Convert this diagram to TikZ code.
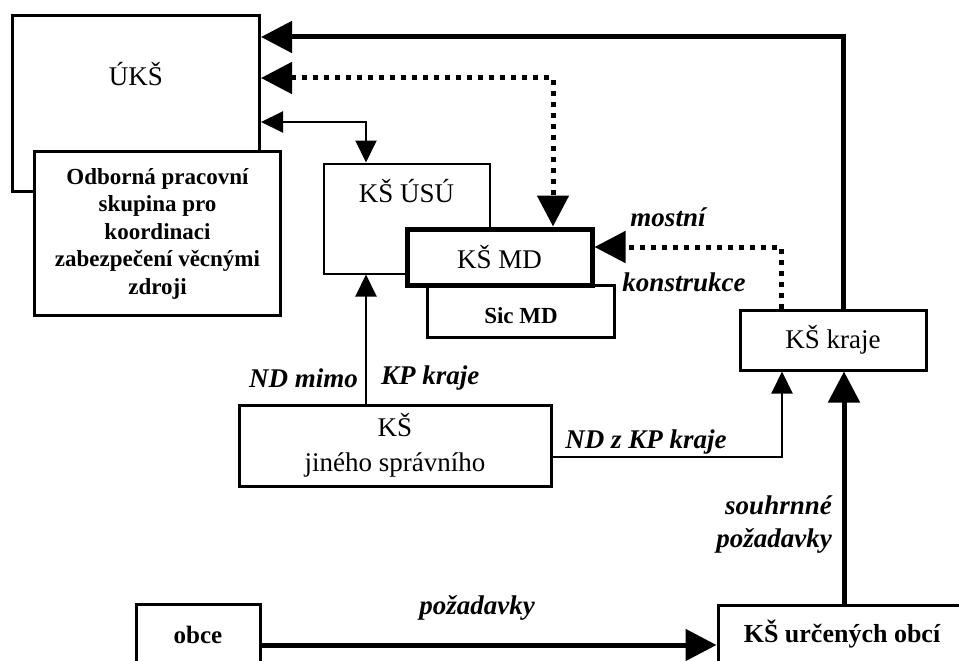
\documentclass[tikz,border=0pt]{standalone}
\usepackage{fontspec}
\setmainfont{Liberation Serif}
\usetikzlibrary{arrows.meta}

% font sizes
\newcommand{\regsize}{\fontsize{27}{35}\selectfont}
\newcommand{\boldsize}{\fontsize{23}{27.5}\selectfont\bfseries}
\newcommand{\labsize}{\fontsize{27}{33}\selectfont\bfseries\itshape}

\tikzset{
  box/.style={draw, fill=white, line width=3pt, inner sep=0pt, align=center, font=\regsize},
  lab/.style={inner sep=0pt, font=\labsize},
  thickline/.style={line width=5pt},
  thinline/.style={line width=2pt},
  dotline/.style={line width=5pt, dash pattern=on 5pt off 6pt},
  bigtri/.tip={Triangle[length=31pt,width=31pt]},
  smalltri/.tip={Triangle[length=22pt,width=21pt]}
}

\begin{document}
\begin{tikzpicture}[x=1pt, y=-1pt]
\useasboundingbox (0,0) rectangle (959,661);
\clip (0,0) rectangle (959,661);

% boxes
\node[box, minimum width=247, minimum height=175,
  label={[font=\regsize, yshift=-60pt, anchor=center]north:ÚKŠ}] (uks) at (136,103.5) {};
\node[box, font=\boldsize, minimum width=246, minimum height=164] (odb) at (157.5,233.5)
  {Odborná pracovní\\skupina pro\\koordinaci\\zabezpečení věcnými\\zdroji};
\node[box, line width=2pt, minimum width=166, minimum height=110,
  label={[font=\regsize, yshift=-29pt, anchor=center]north:KŠ ÚSÚ}] (usu) at (406.5,218.5) {};
\node[box, line width=2.5pt, minimum width=187, minimum height=52,
  label={[font=\boldsize, yshift=-31.5pt, anchor=center]north:Sic MD}] (sic) at (521,311.5) {};
\node[box, line width=5pt, minimum width=185, minimum height=56] (md) at (499.5,257) {KŠ MD};
\node[box, minimum width=186, minimum height=60] (kraje) at (833,340) {KŠ kraje};
\node[box, minimum width=312, minimum height=81] (jin) at (395,445.5) {KŠ\\jiného správního};
\node[box, font=\boldsize\fontsize{25}{30}\selectfont, minimum width=124, minimum height=62] (obce) at (198,635) {obce};
\node[box, font=\boldsize\fontsize{26}{30}\selectfont, minimum width=248, minimum height=58] (urc) at (842,634) {KŠ určených obcí};

% arrows
\draw[thickline, -bigtri] (843,0 |- kraje.north) |- (uks.east |- 0,37);
\draw[dotline, bigtri-bigtri] (uks.east |- 0,78) -| (553,0 |- md.north);
\draw[thinline, smalltri-smalltri] (uks.east |- 0,122) -| (366,0 |- usu.north);
\draw[dotline, -bigtri] (781,0 |- kraje.north) |- (md.east |- 0,247);
\draw[thinline, -smalltri] (366,0 |- jin.north) -- (366,0 |- usu.south);
\draw[thinline, -smalltri] (jin.east |- 0,457) -| (782,0 |- kraje.south);
\draw[thickline, -bigtri] (844,0 |- urc.north) -- (844,0 |- kraje.south);
\draw[thickline, -bigtri] (obce.east |- 0,645) -- (urc.west |- 0,645);

% labels
\node[lab] (lmost) at (668,217) {mostní};
\node[lab] (lkonst) at (684,282) {konstrukce};
\node[lab, anchor=east] (lndmimo) at (358,378) {ND mimo};
\node[lab, anchor=west] (lkpkraje) at (381,378) {KP kraje};
\node[lab] (lndz) at (646,442) {ND z KP kraje};
\node[lab, anchor=east, align=right] (lsouhrn) at (832,525) {souhrnné\\požadavky};
\node[lab] (lpoz) at (477,608) {požadavky};
\end{tikzpicture}
\end{document}
